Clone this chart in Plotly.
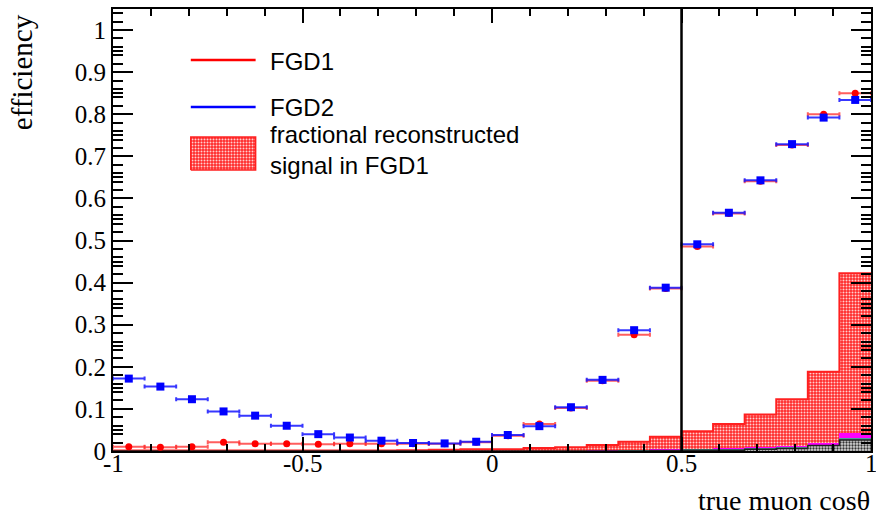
import numpy as np
import plotly.graph_objects as go

# ---------------- data ----------------
n_bins = 24
bin_lo, bin_hi = -1.0, 1.0
bin_edges = np.linspace(bin_lo, bin_hi, n_bins + 1)
bin_centers = 0.5 * (bin_edges[:-1] + bin_edges[1:])
bin_half = 0.5 * (bin_edges[1] - bin_edges[0])

eff_fgd1 = [0.010, 0.009, 0.010, 0.021, 0.017, 0.017, 0.016, 0.017, 0.017, 0.017, 0.017, 0.021,
            0.036, 0.064, 0.102, 0.167, 0.276, 0.386, 0.486, 0.564, 0.641, 0.727, 0.800, 0.850]
eff_fgd2 = [0.172, 0.153, 0.123, 0.094, 0.084, 0.060, 0.040, 0.032, 0.0245, 0.019, 0.018, 0.022,
            0.038, 0.059, 0.104, 0.169, 0.287, 0.388, 0.491, 0.566, 0.643, 0.729, 0.792, 0.834]
frac_signal_fgd1 = [0.001, 0.001, 0.001, 0.001, 0.001, 0.001, 0.001, 0.001, 0.001, 0.002, 0.003, 0.004,
                    0.004, 0.007, 0.009, 0.014, 0.022, 0.034, 0.047, 0.064, 0.087, 0.123, 0.188, 0.422]
frac_magenta = [0, 0, 0, 0, 0, 0, 0, 0, 0, 0, 0, 0,
                0, 0, 0, 0.001, 0.002, 0.003, 0.004, 0.006, 0.009, 0.013, 0.018, 0.043]
frac_teal = [0, 0, 0, 0, 0, 0, 0, 0, 0, 0, 0, 0,
             0, 0, 0, 0, 0.001, 0.002, 0.003, 0.004, 0.006, 0.010, 0.015, 0.032]
frac_gray = [0, 0, 0, 0, 0, 0, 0, 0, 0, 0, 0, 0,
             0, 0, 0, 0, 0, 0.001, 0.002, 0.002, 0.004, 0.006, 0.013, 0.026]
cut_value = 0.5

y_ticks = [0, 0.1, 0.2, 0.3, 0.4, 0.5, 0.6, 0.7, 0.8, 0.9, 1.0]
y_tick_text = ["0", "0.1", "0.2", "0.3", "0.4", "0.5", "0.6", "0.7", "0.8", "0.9", "1"]
x_ticks = [-1, -0.5, 0, 0.5, 1]
x_tick_text = ["-1", "-0.5", "0", "0.5", "1"]

legend_labels = ["FGD1", "FGD2", "fractional reconstructed<br>signal in FGD1"]

# ---------------- figure ----------------
W, H = 876, 516
ML, MR, MT, MB = 113, 3, 9, 65
PW, PH = W - ML - MR, H - MT - MB
Y_TOP = 1.05
serif = "Liberation Serif, Times New Roman, serif"
sans = "Liberation Sans, Arial, sans-serif"

fig = go.Figure()

def step_xy(vals):
    xs = list(bin_edges)
    ys = list(vals) + [vals[-1]]
    return xs, ys

red_pattern = dict(shape=".", fgcolor="#ffd0d0", bgcolor="#ff2a2a", size=3, solidity=0.35, fillmode="replace")

# red hatched histogram
fig.add_trace(go.Bar(
    x=bin_centers, y=frac_signal_fgd1, width=2 * bin_half,
    marker=dict(color="#ff2a2a", line=dict(width=0), pattern=red_pattern),
    showlegend=False, hoverinfo="skip"))
xs, ys = step_xy(frac_signal_fgd1)
fig.add_trace(go.Scatter(x=xs, y=ys, mode="lines", line=dict(color="#ff2020", width=2, shape="hv"),
                         showlegend=False, hoverinfo="skip"))
# magenta
fig.add_trace(go.Bar(x=bin_centers, y=frac_magenta, width=2 * bin_half,
                     marker=dict(color="#ff00ff", line=dict(width=0)), showlegend=False, hoverinfo="skip"))
# teal
fig.add_trace(go.Bar(x=bin_centers, y=frac_teal, width=2 * bin_half,
                     marker=dict(color="#4f9c9c", line=dict(width=0)), showlegend=False, hoverinfo="skip"))
# gray hatched
fig.add_trace(go.Bar(x=bin_centers, y=frac_gray, width=2 * bin_half,
                     marker=dict(color="#9a9a9a", line=dict(width=0),
                                 pattern=dict(shape=".", fgcolor="#333333", bgcolor="#d8d8d8", size=3, solidity=0.45, fillmode="replace")),
                     showlegend=False, hoverinfo="skip"))
xs, ys = step_xy(frac_gray)
fig.add_trace(go.Scatter(x=xs, y=ys, mode="lines", line=dict(color="#202020", width=1.5, shape="hv"),
                         showlegend=False, hoverinfo="skip"))

# FGD1 points
fig.add_trace(go.Scatter(
    x=bin_centers, y=eff_fgd1, mode="markers",
    marker=dict(symbol="circle", size=7, color="#ff0000"),
    error_x=dict(type="constant", value=bin_half, color="rgba(255,40,40,0.75)", thickness=2, width=2),
    showlegend=False, hoverinfo="skip"))
# FGD2 points
fig.add_trace(go.Scatter(
    x=bin_centers, y=eff_fgd2, mode="markers",
    marker=dict(symbol="square", size=8, color="#0000ff"),
    error_x=dict(type="constant", value=bin_half, color="rgba(20,20,255,0.85)", thickness=2, width=2),
    showlegend=False, hoverinfo="skip"))

# cut line
fig.add_shape(type="line", xref="x", yref="paper", x0=cut_value, x1=cut_value, y0=0, y1=1,
              line=dict(color="black", width=2.5))

# ---------------- legend (manual) ----------------
def px2paper(px, py):
    return (px - ML) / PW, (H - MB - py) / PH

def px2data(px, py):
    return bin_lo + (px - ML) / PW * (bin_hi - bin_lo), (H - MB - py) / PH * Y_TOP

for (py, col) in [(60, "#ff0000"), (107, "#0000ff")]:
    x0, y0 = px2paper(191, py)
    x1, _ = px2paper(256, py)
    fig.add_shape(type="line", xref="paper", yref="paper", x0=x0, x1=x1, y0=y0, y1=y0,
                  line=dict(color=col, width=2.5))
bx0, by0 = px2data(191, 170)
bx1, by1 = px2data(256, 137)
fig.add_trace(go.Scatter(x=[bx0, bx1, bx1, bx0, bx0], y=[by0, by0, by1, by1, by0], mode="lines",
                         fill="toself", fillcolor="#ff2a2a", fillpattern=red_pattern,
                         line=dict(color="#ff2020", width=1.5), showlegend=False, hoverinfo="skip"))
for txt, py in zip(legend_labels, [61, 107, 150]):
    tx, ty = px2paper(268, py)
    fig.add_annotation(text=txt, xref="paper", yref="paper", x=tx, y=ty, xanchor="left", yanchor="middle",
                       showarrow=False, align="left", font=dict(family=sans, size=24, color="black"))

# x tick labels
for v, t in zip(x_ticks, x_tick_text):
    _, ty = px2paper(0, 464)
    fig.add_annotation(text=t, xref="x", yref="paper", x=v, y=ty, xanchor="center", yanchor="middle",
                       showarrow=False, font=dict(family=serif, size=25, color="black"))

# axis titles
tx, ty = px2paper(874, 500)
fig.add_annotation(text="true muon cosθ", xref="paper", yref="paper", x=tx, y=ty, xanchor="right", yanchor="middle",
                   showarrow=False, font=dict(family=serif, size=28, color="black"))
tx, ty = px2paper(22, 12)
fig.add_annotation(text="efficiency", xref="paper", yref="paper", x=tx, y=ty, xanchor="center", yanchor="top",
                   textangle=-90, showarrow=False, font=dict(family=serif, size=29, color="black"))

y_minor = []
for k in range(11):
    for f in [0.02, 0.04, 0.05, 0.06, 0.08]:
        v = round(k * 0.1 + f, 4)
        if v < Y_TOP:
            y_minor.append(v)

fig.update_layout(
    width=W, height=H, margin=dict(l=ML, r=MR, t=MT, b=MB),
    paper_bgcolor="white", plot_bgcolor="white",
    barmode="overlay", bargap=0, showlegend=False,
    xaxis=dict(range=[bin_lo, bin_hi], tickvals=x_ticks, ticktext=x_tick_text, showticklabels=False,
               ticks="inside", ticklen=14, tickwidth=1.5, tickcolor="black",
               showline=True, linecolor="black", linewidth=2, mirror="ticks",
               showgrid=False, zeroline=False,
               minor=dict(dtick=0.1, tick0=0, ticks="inside", ticklen=7, tickwidth=1.5, tickcolor="black", showgrid=False)),
    yaxis=dict(range=[0, Y_TOP], tickvals=y_ticks, ticktext=y_tick_text,
               ticks="inside", ticklen=20, tickwidth=1.5, tickcolor="black",
               showline=True, linecolor="black", linewidth=2, mirror="ticks",
               showgrid=False, zeroline=False,
               tickfont=dict(family=serif, size=25, color="black"),
               minor=dict(tickmode="array", tickvals=y_minor, ticks="inside", ticklen=10, tickwidth=1.5,
                          tickcolor="black", showgrid=False)),
)

fig.write_html("out.html")
